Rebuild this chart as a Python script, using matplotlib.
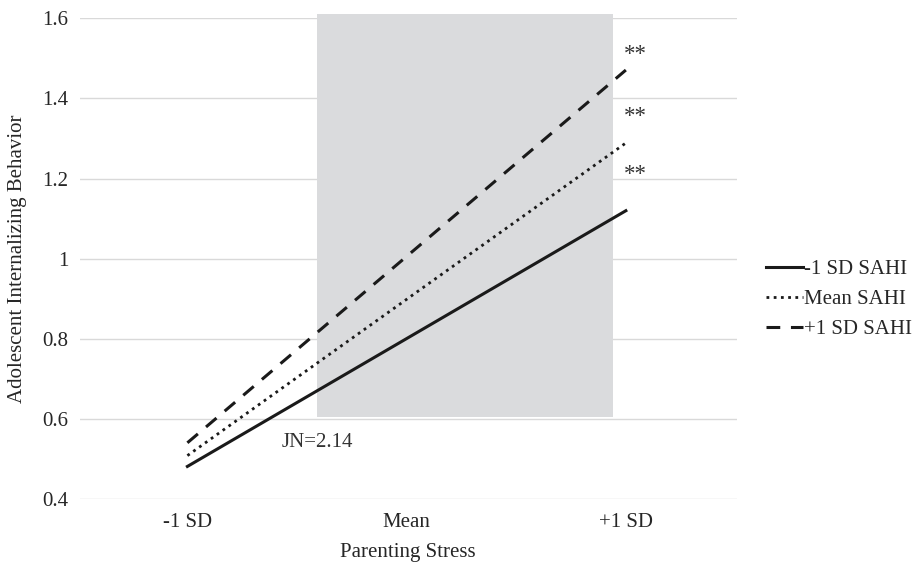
import numpy as np
import matplotlib
matplotlib.use("Agg")
import matplotlib.pyplot as plt
from matplotlib.patches import Rectangle

# ----------------------------
# Data
# ----------------------------
categories = ["-1 SD", "Mean", "+1 SD"]
low_sahi = [0.482, 0.801, 1.120]
mean_sahi = [0.509, 0.899, 1.289]
high_sahi = [0.541, 1.006, 1.471]
series_labels = ["-1 SD SAHI", "Mean SAHI", "+1 SD SAHI"]
star_y = [1.21, 1.355, 1.51]
jn_label = "JN=2.14"
region_x = (0.592, 1.94)
region_y = (0.605, 1.612)

# ----------------------------
# Style
# ----------------------------
FS = 15
plt.rcParams.update({
    "font.family": ["Liberation Serif", "DejaVu Serif"],
    "font.size": FS,
    "text.color": "#262626",
})

fig = plt.figure(figsize=(9.15, 5.64), dpi=100)
ax = fig.add_axes([0.0874, 0.1147, 0.7176, 0.8528])

x = np.arange(len(categories))

# Johnson-Neyman significance region
ax.add_patch(Rectangle(
    (region_x[0], region_y[0]),
    region_x[1] - region_x[0],
    region_y[1] - region_y[0],
    facecolor="#dadbdd", edgecolor="none", zorder=1, clip_on=False
))

ax.plot(x, low_sahi, color="#1a1a1a", lw=2.2, ls="-",
        label=series_labels[0], zorder=3)
ax.plot(x, mean_sahi, color="#1a1a1a", lw=2.0, ls=(0, (1, 1.6)),
        label=series_labels[1], zorder=3)
ax.plot(x, high_sahi, color="#1a1a1a", lw=2.2, ls=(0, (4.5, 3.5)),
        label=series_labels[2], zorder=3)

for yy in star_y:
    ax.text(2.045, yy, "**", ha="center", va="center", fontsize=16.5,
            color="#333333")

ax.text(0.595, 0.542, jn_label, ha="center", va="center", fontsize=FS,
        color="#333333")

ax.set_xlim(-0.49, 2.505)
ax.set_ylim(0.4, 1.6)
ax.set_yticks(np.arange(0.4, 1.61, 0.2))
ax.set_yticklabels(["0.4", "0.6", "0.8", "1", "1.2", "1.4", "1.6"])
ax.set_xticks(x, categories)

for s in ax.spines.values():
    s.set_visible(False)
ax.tick_params(axis="both", length=0, labelsize=FS, colors="#262626")
ax.tick_params(axis="x", pad=10)
ax.tick_params(axis="y", pad=8.5)
ax.grid(axis="y", color="#d9d9d9", lw=1.0, zorder=0)
ax.set_axisbelow(True)

ax.set_xlabel("Parenting Stress", fontsize=FS, labelpad=8, color="#262626")
ax.set_ylabel("Adolescent Internalizing Behavior", fontsize=FS,
              labelpad=11, color="#262626")

leg = ax.legend(loc="center left", bbox_to_anchor=(1.017, 0.415),
                frameon=False, fontsize=FS, handlelength=1.75,
                handletextpad=0.05, labelspacing=0.5)

fig.savefig("out.png", dpi=100)
